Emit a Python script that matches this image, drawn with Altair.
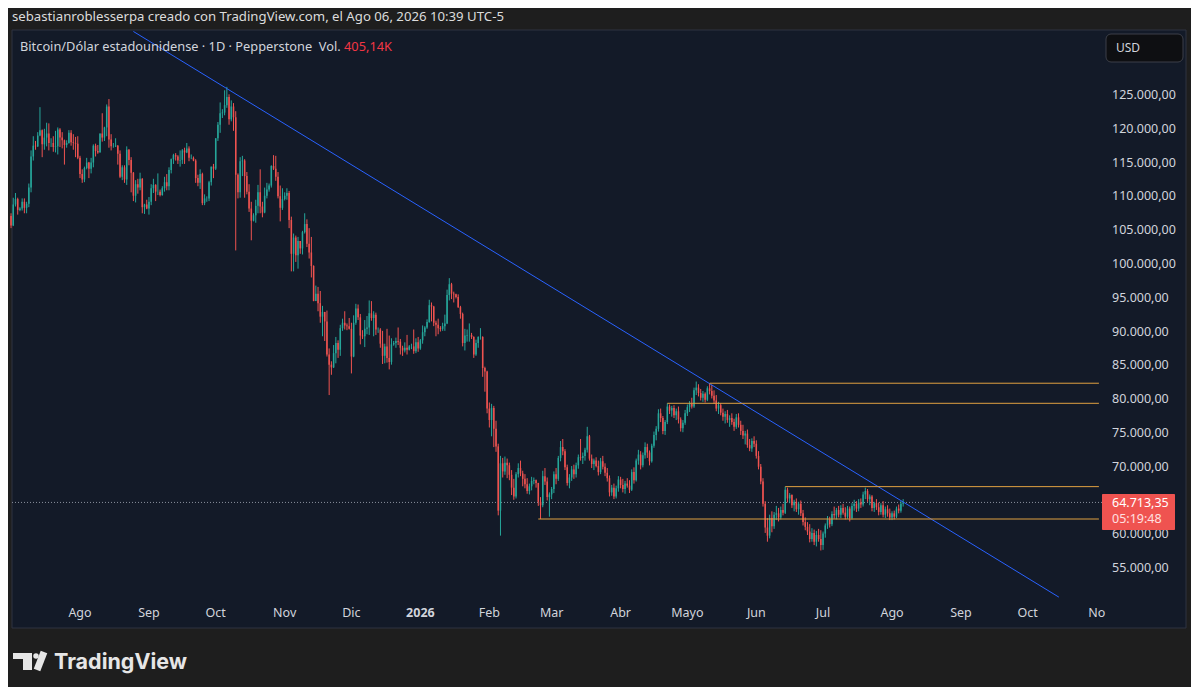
import altair as alt
import pandas as pd
import numpy as np

# ---------------- data (thousands USD): [high, low, close] per day ----------------
PREV_CLOSE = 107.1  # close of 2025-06-30

JUL25 = [[107.5,105.3,105.7],[109.8,105.6,108.8],[110.5,108.5,109.6],[109.8,107.3,108.0],[108.4,107.8,108.2],
         [109.7,107.9,109.2],[109.7,107.5,108.3],[109.2,107.5,108.9],[111.9,108.4,111.3],[116.8,110.6,115.9],
         [118.9,115.3,117.5],[118.2,116.9,117.4],[119.5,117.3,119.0],[123.2,118.9,119.8],[119.9,115.8,117.7],
         [120.0,116.9,118.7],[120.9,117.4,119.3],[120.8,116.8,117.9],[118.6,117.3,117.9],[118.9,116.6,117.3],
         [119.7,116.5,117.4],[120.2,116.2,119.9],[120.1,117.3,118.7],[119.5,117.1,118.3],[118.4,114.7,117.6],
         [118.3,117.2,117.9],[119.8,117.8,119.4],[119.8,117.5,118.0],[119.2,116.9,117.9],[118.8,115.8,117.8],
         [118.9,115.5,115.7]]
AUG25 = [[116.0,112.7,113.3],[114.0,112.0,112.5],[114.4,112.1,114.2],[115.7,114.0,115.0],[115.1,112.7,114.1],
         [115.7,113.4,115.0],[117.7,114.3,117.5],[117.8,115.9,116.7],[117.6,116.3,116.5],[119.3,116.5,119.3],
         [122.3,118.1,118.7],[120.3,118.2,120.2],[123.6,118.9,123.3],[124.4,117.2,118.4],[119.2,116.8,117.4],
         [117.9,117.2,117.4],[118.6,117.3,117.5],[117.6,114.7,116.3],[116.8,112.7,112.9],[114.6,112.4,114.3],
         [114.6,112.0,112.5],[117.4,111.7,116.9],[117.0,114.6,115.4],[115.8,110.6,113.5],[113.6,109.3,110.1],
         [112.4,109.1,111.8],[112.6,110.4,111.3],[113.5,110.9,112.6],[112.7,107.5,108.4],[108.9,107.4,108.8],
         [109.5,108.1,108.2]]
SEP25 = [[109.9,107.3,109.2],[111.8,108.7,111.2],[112.6,110.5,111.7],[111.8,109.3,110.7],[113.4,110.2,110.7],
         [111.0,110.0,110.2],[111.5,110.1,111.2],[112.9,110.7,112.1],[113.3,110.9,111.5],[114.3,110.9,113.9],
         [115.6,113.4,115.5],[116.3,114.8,116.1],[116.4,115.3,115.9],[116.1,114.8,115.3],[116.8,114.4,115.4],
         [117.0,114.8,116.8],[117.2,114.8,116.5],[117.9,116.4,117.1],[117.4,115.2,115.7],[116.2,115.5,115.7],
         [115.9,115.2,115.3],[115.5,112.0,112.7],[113.2,111.5,112.0],[114.0,111.1,113.3],[113.5,108.7,109.0],
         [110.3,108.7,109.7],[110.0,109.2,109.7],[112.3,109.3,112.1],[114.4,111.6,114.4],[114.8,112.7,114.1]]
OCT25 = [[118.6,113.9,118.6],[121.0,118.2,120.6],[123.9,119.4,122.3],[122.9,121.6,122.4],[125.7,122.0,123.5],
         [126.2,123.1,124.7],[125.1,120.6,121.4],[124.2,121.1,123.3],[123.8,119.7,121.7],[122.6,102.0,113.2],
         [113.4,109.7,110.6],[115.8,109.8,115.2],[116.0,113.0,115.3],[115.5,109.8,113.0],[113.6,110.3,110.7],
         [111.8,107.7,108.2],[109.2,103.5,106.4],[107.5,106.3,107.2],[109.5,106.1,108.6],[111.7,107.5,110.6],
         [114.0,107.5,108.5],[109.2,106.9,107.6],[111.3,107.5,110.1],[112.0,109.7,111.0],[111.9,110.7,111.6],
         [114.6,111.3,114.5],[116.1,113.9,114.1],[116.0,112.3,112.9],[113.6,109.7,110.0],[111.6,106.3,108.3],
         [111.2,108.0,109.6]]
NOV25 = [[110.6,109.4,110.1],[111.2,109.5,110.5],[110.8,105.3,106.5],[107.0,98.9,101.5],[104.5,98.9,103.9],
         [104.2,100.3,101.3],[104.0,99.3,103.4],[103.4,101.5,102.3],[104.9,101.4,104.7],[107.5,104.5,105.9],
         [106.6,102.5,103.0],[105.3,100.8,101.7],[104.0,98.0,99.7],[99.8,94.6,94.5],[96.8,94.6,95.6],
         [96.6,93.0,94.2],[96.0,91.3,92.2],[93.8,89.3,92.9],[92.9,88.6,91.5],[93.1,86.3,86.6],
         [87.5,80.6,85.1],[85.6,83.6,84.7],[88.0,84.6,86.8],[89.2,85.3,88.3],[88.7,86.1,87.3],
         [91.0,86.4,90.5],[91.9,90.1,91.3],[93.0,90.3,90.9],[91.2,90.2,90.8],[92.0,90.3,90.4]]
DEC25 = [[91.3,83.8,86.3],[92.4,86.2,91.3],[94.1,91.0,93.4],[94.0,91.7,92.1],[92.6,88.1,89.4],
         [90.2,88.9,89.3],[91.7,87.7,90.4],[92.3,89.6,90.6],[94.6,89.5,92.7],[94.5,91.6,92.0],
         [93.0,89.3,92.5],[92.8,89.5,90.3],[90.6,89.8,90.3],[90.5,87.6,88.2],[90.1,85.2,86.4],
         [88.2,85.3,87.8],[90.4,85.4,86.1],[89.4,84.4,85.5],[89.0,85.1,88.1],[88.6,87.9,88.3],
         [89.1,87.6,88.6],[90.6,88.0,88.5],[88.9,86.6,87.6],[87.9,86.4,87.2],[88.4,86.9,87.6],
         [89.5,86.6,87.3],[88.0,87.2,87.8],[88.2,87.4,87.8],[90.3,86.7,87.1],[89.0,86.8,88.4],
         [89.2,87.0,87.5]]
JAN26 = [[88.9,87.3,88.7],[90.9,88.2,89.9],[90.8,89.3,90.6],[91.8,90.4,91.4],[94.7,91.3,93.9],
         [94.3,91.5,93.7],[93.8,90.8,91.3],[91.6,89.3,91.0],[91.9,89.6,90.5],[90.8,90.0,90.4],
         [91.3,90.1,90.8],[92.5,90.1,91.2],[96.2,91.1,95.4],[97.9,94.6,97.0],[97.2,94.8,95.6],
         [95.9,94.3,95.5],[95.6,94.9,95.1],[95.5,93.5,93.6],[93.8,91.9,92.6],[92.8,87.8,88.3],
         [90.4,87.2,89.4],[90.3,88.5,89.5],[91.2,88.5,89.5],[89.8,88.9,89.2],[89.3,86.1,86.6],
         [88.8,86.4,88.3],[89.3,87.6,89.2],[90.5,88.8,89.2],[89.3,83.3,84.6],[84.8,81.1,84.1],
         [84.2,77.9,78.6]]
FEB26 = [[79.5,75.8,76.9],[79.3,74.5,78.7],[79.0,72.9,75.6],[76.8,72.2,73.0],[73.4,62.8,63.5],
         [71.6,59.8,70.5],[71.3,68.4,69.3],[71.5,68.8,70.6],[71.2,68.3,70.2],[70.6,68.0,68.8],
         [69.5,65.8,66.9],[68.2,65.1,65.6],[69.2,65.3,68.9],[70.5,68.4,69.8],[70.9,68.6,69.0],
         [69.4,67.1,68.2],[68.9,66.8,67.4],[68.3,66.0,66.4],[67.5,65.9,67.1],[68.5,66.5,67.9],
         [68.4,67.4,68.0],[68.1,66.9,67.6],[67.6,64.2,64.8],[65.5,62.26,64.3],[69.4,64.0,68.6],
         [69.8,67.3,67.8],[68.4,65.0,65.5],[66.2,62.6,65.9]]
MAR26 = [[67.0,65.2,66.7],[69.3,66.1,68.9],[69.8,67.4,68.2],[71.6,67.9,71.3],[73.8,70.8,72.9],
         [74.1,71.7,72.3],[72.6,69.5,69.9],[70.3,67.2,67.6],[68.9,66.8,68.4],[70.1,67.9,69.6],
         [70.3,68.2,68.9],[70.6,68.4,70.2],[71.8,69.7,71.4],[74.1,70.9,71.3],[72.1,70.4,71.6],
         [72.8,70.9,72.5],[75.9,72.1,74.5],[74.7,70.9,71.2],[71.8,69.8,70.4],[71.2,69.5,70.9],
         [71.4,69.9,70.1],[70.9,68.7,69.2],[71.3,68.9,70.8],[71.6,69.6,70.0],[70.5,68.6,69.1],
         [69.8,67.8,68.3],[68.7,65.6,66.2],[67.3,65.7,66.9],[67.5,65.2,65.6],[67.2,65.3,66.8],
         [68.6,66.3,68.1]]
APR26 = [[68.5,66.8,67.3],[68.2,66.2,66.7],[67.9,66.0,67.5],[68.3,66.9,67.2],[68.0,66.1,66.6],
         [69.6,66.4,69.2],[69.9,67.5,68.0],[71.2,67.8,70.9],[72.5,70.3,71.8],[72.3,69.6,70.2],
         [72.1,69.9,71.7],[73.6,71.2,72.9],[73.4,71.3,72.1],[72.4,70.2,70.8],[73.4,70.6,73.1],
         [75.2,72.8,74.7],[76.0,73.9,75.6],[78.5,75.2,77.9],[78.6,76.6,77.2],[77.5,74.8,75.3],
         [76.9,74.7,76.6],[79.38,76.3,78.9],[79.2,77.8,78.3],[79.0,77.4,78.7],[79.1,77.2,77.6],
         [78.6,76.9,78.2],[78.9,76.4,77.0],[77.3,75.2,75.7],[76.9,75.1,76.5],[78.4,76.2,77.9]]
MAY26 = [[79.2,77.5,78.8],[79.7,78.1,79.3],[80.2,78.6,78.9],[81.7,78.7,81.3],[82.6,80.6,81.7],
         [82.2,80.4,80.9],[81.5,79.8,80.2],[81.2,79.6,80.8],[81.0,79.5,79.9],[81.9,79.7,81.6],
         [82.35,80.7,81.2],[82.1,80.1,80.5],[81.3,79.3,79.8],[80.6,78.2,78.6],[79.6,77.8,79.1],
         [79.4,77.6,78.0],[78.6,76.8,77.4],[78.2,76.4,77.8],[78.4,76.5,76.9],[77.6,75.9,77.2],
         [77.9,76.2,76.6],[77.1,75.3,75.9],[77.8,75.6,77.3],[77.9,75.8,76.2],[76.8,74.7,75.3],
         [76.2,74.1,74.6],[75.3,73.3,74.9],[75.5,72.8,73.2],[74.1,72.3,72.7],[74.2,72.2,73.8],
         [74.5,72.9,73.4]]
JUN26 = [[73.9,71.2,71.6],[72.3,69.6,70.0],[70.4,67.4,67.8],[68.3,64.1,64.5],[64.9,60.2,61.0],
         [62.4,58.9,59.8],[62.9,59.4,62.4],[63.4,60.3,61.2],[63.3,60.8,62.9],[64.2,62.1,63.1],
         [63.9,61.9,62.5],[64.1,62.2,63.6],[64.5,62.8,63.2],[67.05,63.0,66.6],[66.9,64.7,65.3],
         [66.1,64.6,65.8],[65.9,63.9,64.3],[65.1,63.4,64.8],[65.3,63.3,63.7],[64.8,62.9,64.5],
         [65.0,62.7,63.1],[63.6,61.3,61.8],[62.5,60.6,61.1],[61.8,59.9,60.4],[61.5,58.8,59.3],
         [60.9,58.9,60.2],[60.7,58.4,58.9],[60.5,58.2,59.9],[60.8,58.9,59.3],[60.6,57.6,58.4]]
JUL26 = [[60.4,57.7,60.1],[61.6,59.5,61.3],[62.7,60.8,62.2],[62.6,61.0,61.5],[63.4,61.2,63.0],
         [64.1,62.3,62.8],[63.9,62.2,63.6],[64.2,62.5,62.9],[64.3,62.4,63.9],[64.5,62.9,63.2],
         [64.0,62.2,62.6],[64.2,62.3,63.8],[64.1,61.9,62.4],[64.6,62.2,64.2],[65.1,63.5,64.5],
         [64.9,63.3,63.8],[65.2,63.4,64.7],[65.3,63.9,64.4],[66.3,64.1,65.9],[66.9,65.2,66.4],
         [66.7,64.8,65.2],[65.9,64.3,65.6],[65.8,63.4,63.9],[64.8,63.3,64.6],[65.2,63.6,64.0],
         [64.7,62.8,63.3],[64.6,62.9,64.3],[64.9,62.5,62.9],[64.1,62.4,63.7],[64.3,62.6,63.1],
         [63.8,62.1,62.5]]
AUG26 = [[63.4,62.1,63.1],[63.5,62.2,62.6],[64.1,62.4,63.8],[64.4,63.1,63.5],[64.9,63.2,64.5],
         [65.2,64.1,64.71335]]

MONTHS = [("2025-07-01", JUL25), ("2025-08-01", AUG25), ("2025-09-01", SEP25), ("2025-10-01", OCT25),
          ("2025-11-01", NOV25), ("2025-12-01", DEC25), ("2026-01-01", JAN26), ("2026-02-01", FEB26),
          ("2026-03-01", MAR26), ("2026-04-01", APR26), ("2026-05-01", MAY26), ("2026-06-01", JUN26),
          ("2026-07-01", JUL26), ("2026-08-01", AUG26)]

LAST_PRICE = 64713.35
COUNTDOWN = "05:19:48"

# drawings
TREND_DATES = ["2025-08-25", "2026-10-15"]
TREND_PRICES = [134400, 50700]
RAY_DATES = ["2026-05-11", "2026-04-22", "2026-06-14", "2026-02-23"]
RAY_PRICES = [82350, 79380, 67050, 62260]
RAY_END = "2026-11-02"

# axes text
MONTH_STARTS = ["2025-08-01", "2025-09-01", "2025-10-01", "2025-11-01", "2025-12-01", "2026-01-01",
                "2026-02-01", "2026-03-01", "2026-04-01", "2026-05-01", "2026-06-01", "2026-07-01",
                "2026-08-01", "2026-09-01", "2026-10-01", "2026-11-01"]
MONTH_LABELS = ["Ago", "Sep", "Oct", "Nov", "Dic", "2026", "Feb", "Mar", "Abr", "Mayo", "Jun", "Jul",
                "Ago", "Sep", "Oct", "No"]
# the 65.000,00 level is hidden behind the last-price label in the reference
PRICE_LEVELS = [55000, 60000, 70000, 75000, 80000, 85000, 90000, 95000, 100000, 105000,
                110000, 115000, 120000, 125000]

HEADER = "sebastianroblesserpa creado con TradingView.com, el Ago 06, 2026 10:39 UTC-5"
LEGEND = "Bitcoin/Dólar estadounidense · 1D · Pepperstone\u00a0\u00a0Vol."
VOLUME = "405,14K"

# ---------------- build tables ----------------
ORIGIN = pd.Timestamp("2025-08-01")


def dayidx(s):
    return (pd.to_datetime(pd.Series(s)) - ORIGIN).dt.days.astype(float)


rows = []
prev = PREV_CLOSE
for start, arr in MONTHS:
    dates = pd.date_range(start, periods=len(arr), freq="D")
    for dt, (h, l, c) in zip(dates, arr):
        o = prev
        rows.append(dict(d=float((dt - ORIGIN).days), o=o * 1000, c=c * 1000,
                         h=max(h, o, c) * 1000, l=min(l, o, c) * 1000))
        prev = c
df = pd.DataFrame(rows)
df.loc[df.index[-1], "c"] = LAST_PRICE
df["d0"] = df["d"] - 0.34
df["d1"] = df["d"] + 0.34
df["dir"] = np.where(df["c"] >= df["o"], "up", "down")

trend = pd.DataFrame({"d0": [dayidx(TREND_DATES).iloc[0]], "d1": [dayidx(TREND_DATES).iloc[1]],
                      "p0": [TREND_PRICES[0]], "p1": [TREND_PRICES[1]]})
rays = pd.DataFrame({"d0": dayidx(RAY_DATES), "p": RAY_PRICES})
rays["d1"] = dayidx([RAY_END]).iloc[0]
months = pd.DataFrame({"d": dayidx(MONTH_STARTS), "t": MONTH_LABELS})


def fmt_price(v):
    s = f"{v:,.2f}"
    return s.replace(",", "X").replace(".", ",").replace("X", ".")


prices = pd.DataFrame({"p": PRICE_LEVELS, "t": [fmt_price(v) for v in PRICE_LEVELS]})
last = pd.DataFrame({"p": [LAST_PRICE]})
DUMMY = pd.DataFrame({"k": [0]})

# ---------------- styling ----------------
W, H = 1183, 679
BG = "#1e1e1e"
PANEL = "#131a28"
UP, DOWN = "#26a69a", "#ef5350"
TXT = "#d1d4dc"
FONT = "Noto Sans"

XS = alt.Scale(domain=[-32.364, 499.39], nice=False, zero=False)
YS = alt.Scale(domain=[37402, 137873], nice=False, zero=False)


def X(f):
    return alt.X(f"{f}:Q", scale=XS, axis=None)


def Y(f):
    return alt.Y(f"{f}:Q", scale=YS, axis=None)


COL = alt.Color("dir:N", scale=alt.Scale(domain=["up", "down"], range=[UP, DOWN]), legend=None)

panel = alt.Chart(DUMMY).mark_rect(fill=PANEL, stroke="#2e3240", strokeWidth=1).encode(
    x=alt.value(4), x2=alt.value(1178), y=alt.value(22), y2=alt.value(620))

dotted = alt.Chart(last).mark_rule(color="#8a8f9c", strokeDash=[1, 2], strokeWidth=1).encode(
    y=Y("p"), x=alt.value(4), x2=alt.value(1094))

wicks = alt.Chart(df).mark_rule(strokeWidth=1).encode(x=X("d"), y=Y("l"), y2="h:Q", color=COL)
bodies = alt.Chart(df).mark_rect().encode(x=X("d0"), x2="d1:Q", y=Y("o"), y2="c:Q", color=COL)

trendline = alt.Chart(trend).mark_rule(color="#2962ff", strokeWidth=1).encode(
    x=X("d0"), x2="d1:Q", y=Y("p0"), y2="p1:Q")
raylines = alt.Chart(rays).mark_rule(color="#e0a040", strokeWidth=1).encode(
    x=X("d0"), x2="d1:Q", y=Y("p"))

mlab = alt.Chart(months).transform_filter("datum.t != '2026'").mark_text(
    font=FONT, fontSize=12.5, color=TXT, align="center", baseline="middle").encode(
    x=X("d"), y=alt.value(605), text="t:N")
mlab_b = alt.Chart(months).transform_filter("datum.t == '2026'").mark_text(
    font=FONT, fontSize=12.5, fontWeight="bold", color=TXT, align="center", baseline="middle").encode(
    x=X("d"), y=alt.value(605), text="t:N")

plab = alt.Chart(prices).mark_text(font=FONT, fontSize=12.5, color=TXT, align="left",
                                    baseline="middle").encode(x=alt.value(1104), y=Y("p"), text="t:N")

pbox = alt.Chart(DUMMY).mark_rect(fill="#ef5350", cornerRadius=1).encode(
    x=alt.value(1094), x2=alt.value(1167), y=alt.value(486), y2=alt.value(522))
ptxt1 = alt.Chart(DUMMY).mark_text(text=fmt_price(LAST_PRICE), font=FONT, fontSize=12.5, color="#ffffff",
                                   align="left", baseline="middle").encode(x=alt.value(1104), y=alt.value(495))
ptxt2 = alt.Chart(DUMMY).mark_text(text=COUNTDOWN, font=FONT, fontSize=12.5, color="#ffe0e0",
                                   align="left", baseline="middle").encode(x=alt.value(1104), y=alt.value(511))

usd_box = alt.Chart(DUMMY).mark_rect(fill="#0e0f12", stroke="#3c3f48", strokeWidth=1, cornerRadius=5).encode(
    x=alt.value(1098), x2=alt.value(1175), y=alt.value(26), y2=alt.value(54))
usd_txt = alt.Chart(DUMMY).mark_text(text="USD", font=FONT, fontSize=12, color=TXT, align="left",
                                     baseline="middle").encode(x=alt.value(1108), y=alt.value(40))

header = alt.Chart(DUMMY).mark_text(text=HEADER, font=FONT, fontSize=13.2, color="#dcdcdc", align="left",
                                    baseline="middle").encode(x=alt.value(4), y=alt.value(9))
legend = alt.Chart(DUMMY).mark_text(text=LEGEND, font=FONT, fontSize=12.8, color=TXT, align="left",
                                    baseline="middle").encode(x=alt.value(12), y=alt.value(39))
vol = alt.Chart(DUMMY).mark_text(text=VOLUME, font=FONT, fontSize=12.8, color="#f23645", align="left",
                                 baseline="middle").encode(x=alt.value(336), y=alt.value(39))

LOGO = "#e6e6e6"
logo_bar = alt.Chart(DUMMY).mark_rect(fill=LOGO).encode(
    x=alt.value(5), x2=alt.value(24), y=alt.value(645), y2=alt.value(651))
logo_stem = alt.Chart(DUMMY).mark_rect(fill=LOGO).encode(
    x=alt.value(15), x2=alt.value(24), y=alt.value(645), y2=alt.value(662))
logo_dot = alt.Chart(DUMMY).mark_point(filled=True, shape="circle", size=30, color=LOGO, opacity=1).encode(
    x=alt.value(28), y=alt.value(648))
logo_slash = alt.Chart(DUMMY).mark_rule(color=LOGO, strokeWidth=7).encode(
    x=alt.value(29), y=alt.value(662), x2=alt.value(36), y2=alt.value(644))
logo_txt = alt.Chart(DUMMY).mark_text(text="TradingView", font="Inter", fontSize=21.5, fontWeight="bold",
                                      color=LOGO, align="left", baseline="middle").encode(
    x=alt.value(46), y=alt.value(655))

chart = alt.layer(
    panel, dotted, wicks, bodies, trendline, raylines, mlab, mlab_b, plab, pbox, ptxt1, ptxt2,
    usd_box, usd_txt, header, legend, vol, logo_bar, logo_stem, logo_dot, logo_slash, logo_txt
).properties(
    width=W, height=H, autosize="none", padding=0, background=BG
).configure_view(stroke=None)

chart.save("out.html", embed_options={"renderer": "svg", "actions": False})
